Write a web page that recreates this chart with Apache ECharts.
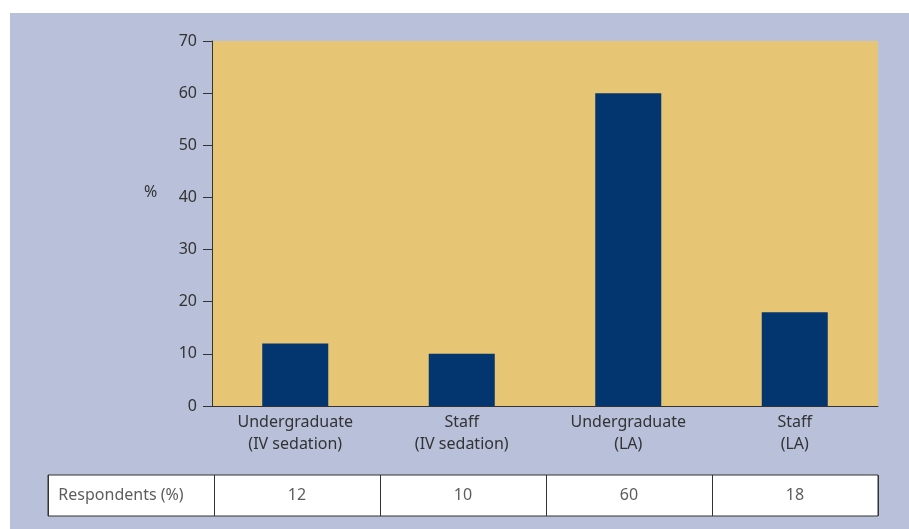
<!DOCTYPE html>
<html>
<head>
<meta charset="utf-8">
<script src="https://cdn.jsdelivr.net/npm/echarts@6/dist/echarts.min.js"></script>
<style>
  html, body { margin: 0; padding: 0; background: #fff; }
  #panel {
    position: absolute;
    left: 10px;
    top: 13px;
    width: 899px;
    height: 516px;
    background: #b8c0da;
  }
</style>
</head>
<body>
<div id="panel"></div>
<script>
// 数据
const categories = ['Undergraduate\n(IV sedation)', 'Staff\n(IV sedation)', 'Undergraduate\n(LA)', 'Staff\n(LA)']
const respondents = [12, 10, 60, 18]
const yTicks = [0, 10, 20, 30, 40, 50, 60, 70]
const rowLabel = 'Respondents (%)'
const yName = '%'

const textColor = '#333'
const font = 'Noto Sans'

// 表格行：第一列为标题，其余为数值
const tableCols = [rowLabel].concat(respondents.map(String))
const tableData = tableCols.map((t, i) => ({
  value: [i, 0],
  label: {
    formatter: t,
    offset: i === 0 ? [-10, 0] : [0, 0]
  }
}))

var myChart = echarts.init(document.getElementById('panel'))
myChart.setOption({
  animation: false,
  textStyle: { fontFamily: font },
  // y轴名称放在 40 刻度旁
  graphic: [
    {
      type: 'text',
      left: 134,
      top: 171,
      style: { text: yName, fill: textColor, fontSize: 16, fontFamily: font }
    }
  ],
  grid: [
    {
      left: 202,
      right: 31,
      top: 28,
      bottom: 123,
      show: true,
      backgroundColor: '#e6c674',
      borderWidth: 0
    },
    {
      left: 38,
      right: 31,
      top: 462,
      height: 41,
      show: true,
      backgroundColor: '#fff',
      borderColor: '#333',
      borderWidth: 1
    }
  ],
  xAxis: [
    {
      type: 'category',
      gridIndex: 0,
      data: categories,
      axisLine: { lineStyle: { color: '#333' } },
      axisTick: { length: 6, lineStyle: { color: '#333' } },
      axisLabel: {
        color: textColor,
        fontSize: 16,
        lineHeight: 22,
        margin: 5
      }
    },
    {
      type: 'category',
      gridIndex: 1,
      data: tableCols.map((t, i) => i),
      axisLine: { show: false },
      axisTick: { show: false },
      axisLabel: { show: false },
      splitLine: { show: true, interval: 0, lineStyle: { color: '#333', width: 1 } }
    }
  ],
  yAxis: [
    {
      type: 'value',
      gridIndex: 0,
      min: yTicks[0],
      max: yTicks[yTicks.length - 1],
      interval: 10,
      axisLine: { show: true, lineStyle: { color: '#333' } },
      axisTick: { show: true, length: 9, lineStyle: { color: '#333' } },
      axisLabel: { color: textColor, fontSize: 16, margin: 15 },
      splitLine: { show: false }
    },
    {
      type: 'category',
      gridIndex: 1,
      data: ['row'],
      show: false
    }
  ],
  series: [
    {
      name: 'Respondents',
      type: 'bar',
      xAxisIndex: 0,
      yAxisIndex: 0,
      barWidth: 66,
      itemStyle: { color: '#03356f' },
      data: respondents
    },
    {
      type: 'scatter',
      xAxisIndex: 1,
      yAxisIndex: 1,
      symbolSize: 1,
      itemStyle: { color: 'rgba(0,0,0,0)' },
      label: {
        show: true,
        position: 'inside',
        color: textColor,
        fontSize: 16
      },
      data: tableData
    }
  ]
})
</script>
</body>
</html>
